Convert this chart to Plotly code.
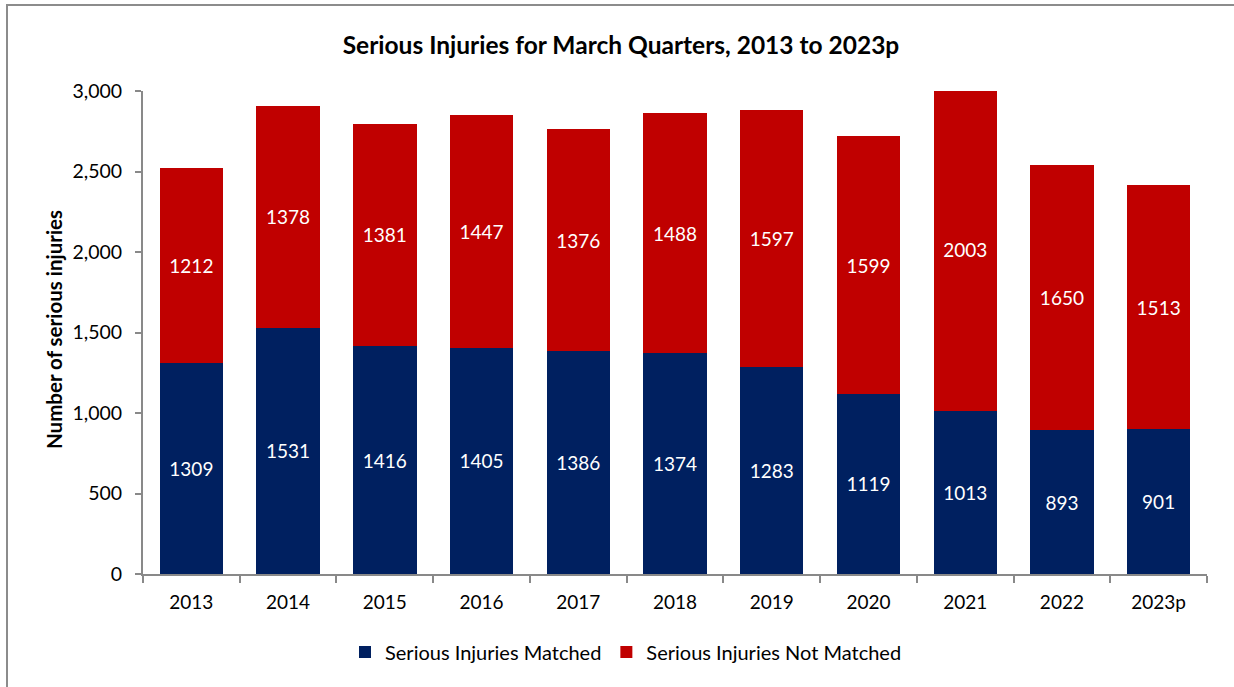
import plotly.graph_objects as go

years = ["2013", "2014", "2015", "2016", "2017", "2018", "2019", "2020", "2021", "2022", "2023p"]
matched = [1309, 1531, 1416, 1405, 1386, 1374, 1283, 1119, 1013, 893, 901]
not_matched = [1212, 1378, 1381, 1447, 1376, 1488, 1597, 1599, 2003, 1650, 1513]

FONT = "Lato, Carlito, Calibri, sans-serif"
W, H = 1234, 687
L, R, T, B = 143, 27, 91, 113
pw, ph = W - L - R, H - T - B

fig = go.Figure()
fig.add_trace(go.Bar(
    x=years, y=matched, name="Serious Injuries Matched",
    marker=dict(color="#002060", line=dict(width=0)),
    text=[str(v) for v in matched], textposition="inside", insidetextanchor="middle",
    textfont=dict(color="white", size=19, family=FONT),
))
fig.add_trace(go.Bar(
    x=years, y=not_matched, name="Serious Injuries Not Matched",
    marker=dict(color="#C00000", line=dict(width=0)),
    text=[str(v) for v in not_matched], textposition="inside", insidetextanchor="middle",
    textfont=dict(color="white", size=19, family=FONT),
))

fig.update_layout(
    width=W, height=H,
    barmode="stack", bargap=0.345,
    plot_bgcolor="white", paper_bgcolor="white",
    margin=dict(l=L, r=R, t=T, b=B),
    font=dict(family=FONT, size=19, color="black"),
    title=dict(text="<b>Serious Injuries for March Quarters, 2013 to 2023p</b>",
               x=621 / W, xanchor="center", xref="container", y=1 - 45 / H, yanchor="middle",
               font=dict(size=24.5, family=FONT, color="black")),
    uniformtext=dict(mode="show", minsize=10),
    legend=dict(orientation="h", x=(626 - L) / pw, xanchor="center", y=-(652 - 574) / ph, yanchor="middle",
                font=dict(size=20, family=FONT), traceorder="normal", itemwidth=30),
    showlegend=True,
)
fig.update_xaxes(
    showline=True, linecolor="#898989", linewidth=2,
    ticks="outside", tickson="boundaries", ticklen=7, tickcolor="#898989", tickwidth=2,
    tickfont=dict(size=19), showgrid=False, ticklabelstandoff=10,
)
fig.update_yaxes(
    range=[0, 3000], dtick=500, tickformat=",",
    showline=True, linecolor="#898989", linewidth=2,
    ticks="outside", ticklen=6, tickcolor="#898989", tickwidth=2,
    tickfont=dict(size=19.5), showgrid=False, zeroline=False, ticklabelstandoff=9,
)
fig.add_annotation(text="<b>Number of serious injuries</b>", textangle=-90,
                   xref="paper", yref="paper", x=(54 - L) / pw, y=1 - (330 - T) / ph,
                   xanchor="center", yanchor="middle", showarrow=False,
                   font=dict(size=20.5, family=FONT, color="black"))
fig.add_shape(type="rect", xref="paper", yref="paper",
              x0=(7 - L) / pw, x1=(W + 60 - L) / pw,
              y0=-(H + 60 - T - ph) / ph, y1=1 + (T - 5) / ph,
              line=dict(color="#8c8c8c", width=2), fillcolor="rgba(0,0,0,0)", layer="below")

fig.write_html("out.html", config={"displayModeBar": False},
               post_script="document.body.style.margin='0';document.body.style.overflow='hidden';")
